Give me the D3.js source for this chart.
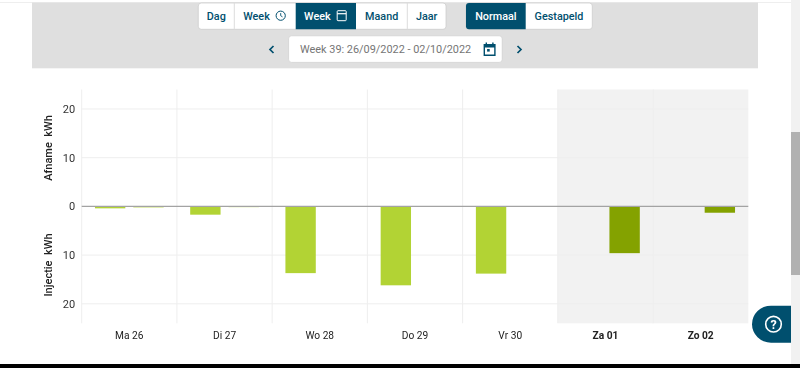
<!DOCTYPE html>
<html><head><meta charset="utf-8">
<script src="https://cdn.jsdelivr.net/npm/d3@7"></script>
<style>
html,body{margin:0;padding:0;background:#fff;overflow:hidden}
svg{display:block;font-family:Roboto,sans-serif;filter:blur(.3px)}
</style></head><body><svg id="c" width="800" height="368"></svg>
<script>
const days = ["Ma 26","Di 27","Wo 28","Do 29","Vr 30","Za 01","Zo 02"];
const weekend = ["Za 01","Zo 02"];
const slotA = [0.4,1.7,13.7,16.2,13.8,0,0];
const slotB = [0.2,0.15,0.1,0.1,0.1,9.6,1.3];
const yTicks = [20,10,0,-10,-20];
const slots = ["a","b"];
const tabsLeft = [["Dag",198.3,234.3,0,""],["Week",234.3,295.7,0,"clock"],["Week",295.7,356,1,"cal"],["Maand",356,407.3,0,""],["Jaar",407.3,446,0,""]];
const tabsRight = [["Normaal",466,525.7,1,""],["Gestapeld",525.7,592.3,0,""]];
const dateLabel = "Week 39: 26/09/2022 - 02/10/2022";
const teal = "#004f6e";

(function(){
const svg = d3.select("#c");
// page chrome
svg.append("rect").attr("x",0).attr("y",2).attr("width",791).attr("height",1).attr("fill","#eeeeee");
svg.append("rect").attr("x",32).attr("y",2.5).attr("width",726).attr("height",65.8).attr("fill","#dfdfdf");
svg.append("rect").attr("x",791).attr("y",0).attr("width",9).attr("height",364).attr("fill","#f1f1f1");
svg.append("rect").attr("x",791).attr("y",132).attr("width",9).attr("height",143).attr("fill","#b1b1b1");
svg.append("rect").attr("x",0).attr("y",364).attr("width",800).attr("height",4).attr("fill","#000");

function tabs(list){
  const x0=list[0][1], x1=list[list.length-1][2];
  svg.append("rect").attr("x",x0).attr("y",3).attr("width",x1-x0).attr("height",26.3).attr("rx",3)
    .attr("fill","#fff").attr("stroke","#c9c9c9").attr("stroke-width",.7);
  list.forEach((t,i)=>{
    const [label,a,b,active,icon]=t;
    if(active){
      const first=i===0;
      svg.append("path").attr("fill",teal).attr("d", first
        ? `M${a+3},3H${b}V29.3H${a+3}Q${a},29.3 ${a},26.3V6Q${a},3 ${a+3},3Z`
        : `M${a},3H${b}V29.3H${a}Z`);
    } else if(i>0 && !list[i-1][3]){
      svg.append("line").attr("x1",a).attr("x2",a).attr("y1",3).attr("y2",29.3).attr("stroke","#dcdcdc");
    }
    const col=active?"#fff":teal;
    const cx=icon?(a+b)/2-8.5:(a+b)/2;
    svg.append("text").attr("x",cx).attr("y",20).attr("text-anchor","middle")
      .attr("font-size",10.8).attr("font-weight",500).attr("fill",col).text(label);
    if(icon==="clock"){
      const g=svg.append("g").attr("transform",`translate(${b-15},15.7)`).attr("fill","none").attr("stroke",col);
      g.append("circle").attr("r",4.6).attr("stroke-width",1);
      g.append("path").attr("d","M0,-2.6V0L1.8,1.2").attr("stroke-width",.9);
    }
    if(icon==="cal"){
      const g=svg.append("g").attr("transform",`translate(${b-14.3},15.7)`).attr("fill","none").attr("stroke",col);
      g.append("rect").attr("x",-4.5).attr("y",-5).attr("width",9).attr("height",10).attr("rx",.8).attr("stroke-width",1);
      g.append("path").attr("d","M-4.5,-2H4.5").attr("stroke-width",1.2);
    }
  });
}
tabs(tabsLeft); tabs(tabsRight);

svg.append("rect").attr("x",288.6).attr("y",35.8).attr("width",213.6).attr("height",26.6).attr("rx",3)
  .attr("fill","#fff").attr("stroke","#cfcfcf").attr("stroke-width",.7);
svg.append("text").attr("x",300).attr("y",53).attr("font-size",10.9).attr("fill","#757575").text(dateLabel);
const cal=svg.append("g").attr("transform","translate(489.6,49.5)").attr("fill",teal);
cal.append("path").attr("fill-rule","evenodd").attr("d","M-6,-5.5H-4V-7H-2.6V-5.5H2.6V-7H4V-5.5H6V6.5H-6ZM-4.6,-2V5.1H4.6V-2Z");
cal.append("rect").attr("x",-2.5).attr("y",-0.5).attr("width",2.6).attr("height",2.6);
[["M273.5,46L270,49.5L273.5,53"],["M517.5,46L521,49.5L517.5,53"]].forEach(d=>
  svg.append("path").attr("d",d[0]).attr("fill","none").attr("stroke",teal).attr("stroke-width",1.7));

// chart
const left=81.7,right=748.3,plotTop=89.5,plotBottom=323.3;
const x=d3.scaleBand().domain(days).range([left,right]);
const x1=d3.scaleBand().domain(slots).range([0,x.bandwidth()]).paddingInner(.208).paddingOuter(.346);
const y=d3.scaleLinear().domain([24,-24]).range([plotTop,plotBottom]);

svg.append("rect").attr("x",x(weekend[0])).attr("y",plotTop).attr("width",right-x(weekend[0])).attr("height",plotBottom-plotTop).attr("fill","#f2f2f2");

const grid=svg.append("g").attr("stroke","#eeeeee").attr("stroke-width",1);
grid.selectAll("line.h").data(yTicks.filter(d=>d!==0)).join("line").attr("class","h")
  .attr("x1",left).attr("x2",right).attr("y1",d=>y(d)).attr("y2",d=>y(d));
grid.selectAll("line.v").data(days).join("line").attr("class","v")
  .attr("x1",d=>x(d)).attr("x2",d=>x(d)).attr("y1",plotTop).attr("y2",plotBottom);

const rows=days.map((d,i)=>({day:d,a:slotA[i],b:slotB[i]}));
const color=d=>weekend.includes(d)?"#84a200":"#b2d334";
svg.append("g").selectAll("g").data(rows).join("g")
  .attr("transform",d=>`translate(${x(d.day)},0)`)
  .selectAll("rect").data(d=>slots.map(s=>({s,day:d.day,v:d[s]})).filter(o=>o.v>0)).join("rect")
  .attr("x",d=>x1(d.s)).attr("width",x1.bandwidth())
  .attr("y",y(0)).attr("height",d=>y(-d.v)-y(0)).attr("fill",d=>color(d.day));

svg.append("line").attr("x1",left).attr("x2",right).attr("y1",y(0)).attr("y2",y(0)).attr("stroke","#a3a3a3").attr("stroke-width",1.4);

const yAxis=svg.append("g").attr("transform",`translate(${left},0)`)
  .call(d3.axisLeft(y).tickValues(yTicks).tickSize(0).tickPadding(6.5).tickFormat(d=>Math.abs(d)));
yAxis.select(".domain").remove();
yAxis.selectAll("text").attr("font-size",11).attr("font-family","Roboto,sans-serif").attr("fill","#333");

const xAxis=svg.append("g").attr("transform",`translate(0,${plotBottom})`)
  .call(d3.axisBottom(x).tickSize(0).tickPadding(8.5));
xAxis.select(".domain").remove();
xAxis.selectAll("text").attr("font-size",10.2).attr("font-family","Roboto,sans-serif").attr("fill","#222")
  .attr("font-weight",d=>weekend.includes(d)?700:400);

[["Afname\u00a0\u00a0kWh",148],["Injectie\u00a0\u00a0kWh",265]].forEach(([t,c])=>
  svg.append("text").attr("transform",`translate(52,${c}) rotate(-90)`).attr("text-anchor","middle")
    .attr("font-size",11).attr("font-weight",500).attr("fill","#222").text(t));

// help button
svg.append("path").attr("d","M791,305.7H771A19,18.5 0 0 0 771,342.7H791Z").attr("fill",teal);
const h=svg.append("g").attr("transform","translate(773.5,324.2)");
h.append("circle").attr("r",7.8).attr("fill","none").attr("stroke","#fff").attr("stroke-width",1.6);
h.append("text").attr("y",4.4).attr("text-anchor","middle").attr("font-size",12.5).attr("font-weight",700).attr("fill","#fff").text("?");
})();
</script></body></html>
